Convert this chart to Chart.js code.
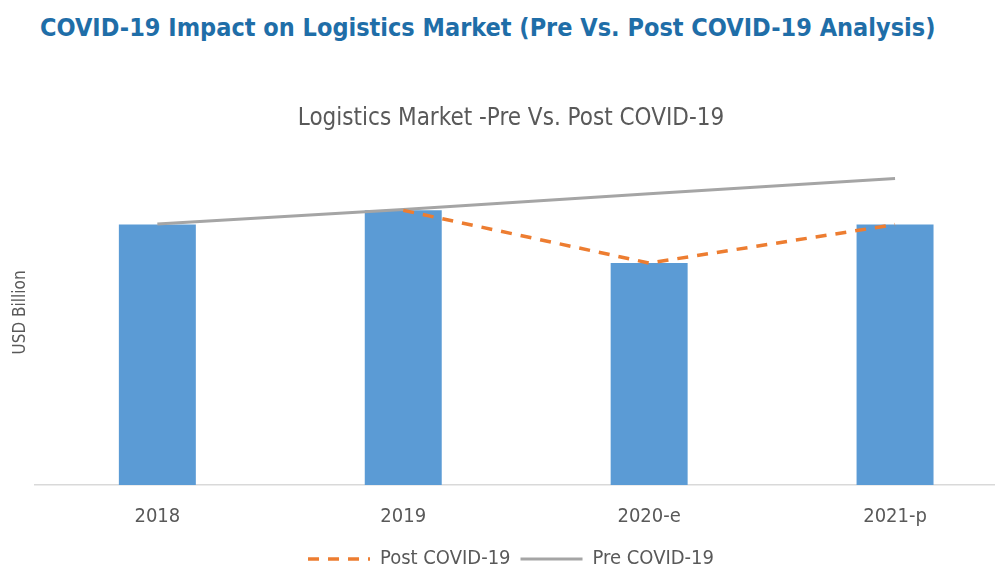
<!DOCTYPE html>
<html>
<head>
<meta charset="utf-8">
<script src="https://cdn.jsdelivr.net/npm/chart.js@4.4.0/dist/chart.umd.min.js"></script>
<style>
  html, body { margin: 0; padding: 0; background: #ffffff; overflow: hidden; }
  body { width: 995px; height: 571px; position: relative; }
  #titulo {
    position: absolute; left: 40px; top: 13px;
    font-family: 'Liberation Sans Narrow', 'DejaVu Sans Condensed', sans-serif;
    font-weight: 700; font-size: 25px; color: #1f6ea8; white-space: nowrap;
  }
  #caja { position: absolute; left: 0; top: 0; width: 1020px; height: 579px; }
</style>
</head>
<body>
<div id="titulo">COVID-19 Impact on Logistics Market (Pre Vs. Post COVID-19 Analysis)</div>
<div id="caja"><canvas id="grafico"></canvas></div>
<script>
// Datos del mercado (USD Billion)
const anios = ['2018', '2019', '2020-e', '2021-p'];
const mercado = [8.6, 9.07, 7.33, 8.6];
const postCovid = [null, 9.07, 7.33, 8.6];
const preCovid = [8.62, 9.1, 9.62, 10.12];

const colores = {
    barra: '#5b9bd5',
    post: '#ed7d31',
    pre: '#a5a5a5',
    texto: '#595959',
    eje: '#d9d9d9'
};
const fuente = "'Liberation Sans Narrow', 'DejaVu Sans Condensed', sans-serif";

new Chart(document.getElementById('grafico'), {
    data: {
        labels: anios,
        datasets: [
            {
                type: 'bar',
                label: 'Market',
                data: mercado,
                backgroundColor: colores.barra,
                barPercentage: 0.313,
                categoryPercentage: 1,
                order: 2
            },
            {
                type: 'line',
                label: 'Post COVID-19',
                data: postCovid,
                borderColor: colores.post,
                backgroundColor: colores.post,
                borderWidth: 3.5,
                borderDash: [11, 9],
                pointRadius: 0,
                tension: 0,
                order: 0
            },
            {
                type: 'line',
                label: 'Pre COVID-19',
                data: preCovid,
                borderColor: colores.pre,
                backgroundColor: colores.pre,
                borderWidth: 3,
                pointRadius: 0,
                tension: 0,
                order: 1
            }
        ]
    },
    options: {
        responsive: true,
        maintainAspectRatio: false,
        animation: false,
        layout: { padding: { left: 4, right: 2, top: 0, bottom: 0 } },
        plugins: {
            title: {
                display: true,
                text: 'Logistics Market -Pre Vs. Post COVID-19',
                color: colores.texto,
                font: { family: fuente, size: 24, weight: 'normal' },
                padding: { top: 104, bottom: 7 }
            },
            legend: {
                position: 'bottom',
                labels: {
                    color: colores.texto,
                    font: { family: fuente, size: 20 },
                    usePointStyle: true,
                    pointStyle: 'line',
                    pointStyleWidth: 62,
                    padding: 10,
                    filter: (item) => item.datasetIndex !== 0,
                    // el estilo de punto pierde el trazo discontinuo: se toma del dataset
                    generateLabels: (chart) => {
                        const base = Chart.defaults.plugins.legend.labels.generateLabels(chart);
                        return base.map(item => {
                            const ds = chart.data.datasets[item.datasetIndex];
                            item.lineDash = ds.borderDash || [];
                            item.lineWidth = ds.borderWidth;
                            item.strokeStyle = ds.borderColor;
                            return item;
                        });
                    }
                }
            },
            tooltip: { enabled: false }
        },
        scales: {
            x: {
                grid: { display: true, drawOnChartArea: false, drawTicks: false },
                border: { display: true, color: colores.eje, width: 1.5 },
                ticks: {
                    color: colores.texto,
                    font: { family: fuente, size: 20 },
                    padding: 20
                },
                afterFit: (escala) => { escala.height -= 10; }
            },
            y: {
                min: 0,
                max: 11.4,
                grid: { display: false, drawTicks: false },
                border: { display: false },
                ticks: { display: false },
                title: {
                    display: true,
                    text: 'USD Billion',
                    color: colores.texto,
                    font: { family: fuente, size: 17 },
                    padding: { top: 6, bottom: 4 }
                }
            }
        }
    }
});
</script>
</body>
</html>
